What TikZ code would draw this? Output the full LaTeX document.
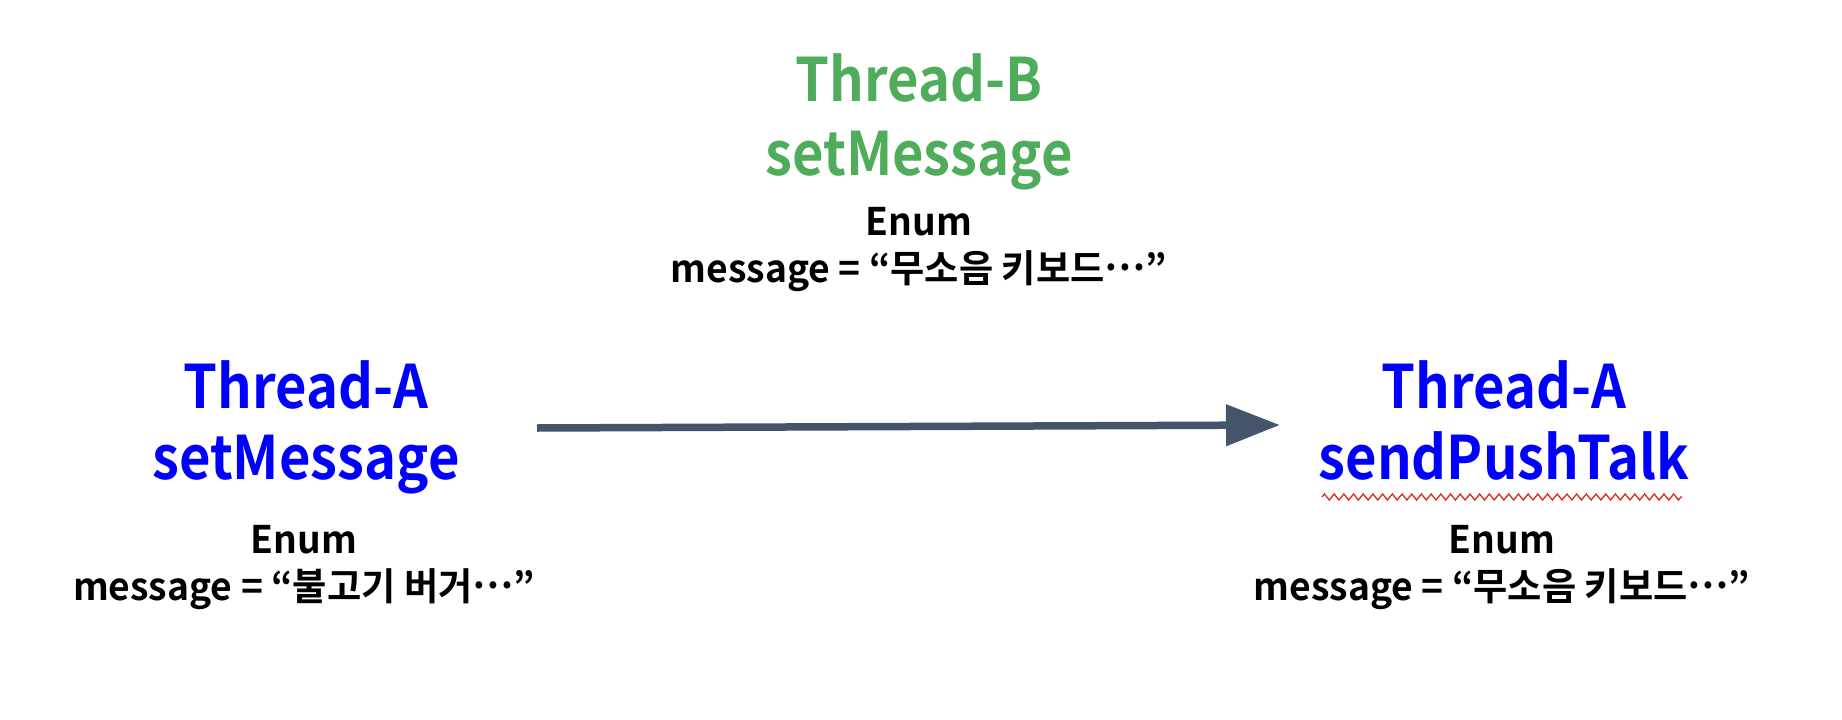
\documentclass[tikz,border=0pt]{standalone}
\usepackage{fontspec}
\newfontfamily\ttlfont{Noto Sans CJK KR Bold}[FakeStretch=0.905]
\newfontfamily\valfont{Noto Sans CJK KR Bold}[FakeStretch=0.98]
\usetikzlibrary{arrows.meta,decorations.pathmorphing}
\definecolor{thra}{RGB}{0,0,255}
\definecolor{thrb}{RGB}{78,172,91}
\definecolor{slate}{RGB}{68,84,106}
\definecolor{spell}{RGB}{220,40,30}
\newcommand{\mdots}{\raisebox{0.3em}{…}}

\begin{document}
\begin{tikzpicture}[x=1pt,y=-1pt,
  title/.style={align=center,inner sep=0pt,anchor=north,font=\ttlfont\fontsize{60}{71}\selectfont},
  val/.style={align=center,inner sep=0pt,anchor=north,font=\valfont\fontsize{38}{47}\selectfont},
  flow/.style={draw=slate,line width=7.5pt,-{Triangle[length=54pt,width=40pt]}},
  squig/.style={draw=spell,line width=1.3pt,decorate,decoration={zigzag,segment length=9.7pt,amplitude=3pt}}]
  \useasboundingbox (0,0) rectangle (1842,720);
  \node[title,text=thrb,font=\ttlfont\fontsize{60}{74}\selectfont] (tt) at (919,53) {Thread-B\\setMessage};
  \node[val] (tv) at (919,207) {Enum\\message = “무소음 키보드\mdots”};
  \node[title,text=thra] (lt) at (306,360) {Thread-A\\setMessage};
  \node[val] (lv) at (304,525) {Enum\\message = “불고기 버거\mdots”};
  \node[title,text=thra] (rt) at (1504,360) {Thread-A\\sendPushTalk};
  \node[val] (rv) at (1502,525) {Enum\\message = “무소음 키보드\mdots”};
  \coordinate (from) at (537,428);
  \coordinate (to) at (1280,425);
  \coordinate (sq1) at (1322,497);
  \coordinate (sq2) at (1682,497);
  \draw[flow] (from) -- (to);
  \draw[squig] (sq1) -- (sq2);
\end{tikzpicture}
\end{document}
